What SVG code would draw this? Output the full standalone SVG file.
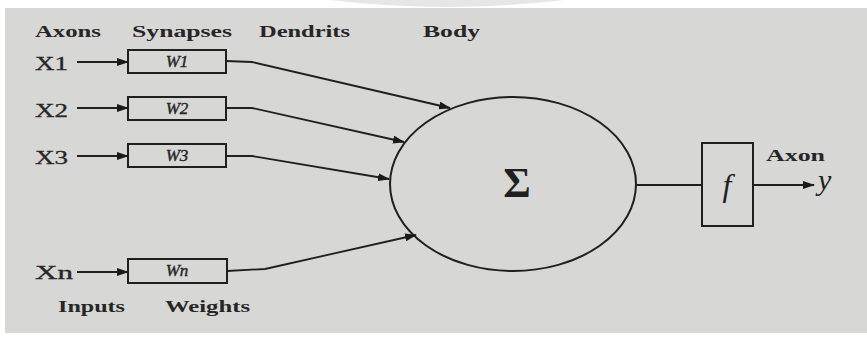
<svg xmlns="http://www.w3.org/2000/svg" width="867" height="337" viewBox="0 0 867 337">
<defs>
<marker id="ah" markerWidth="12" markerHeight="8" refX="11" refY="4" orient="auto" markerUnits="userSpaceOnUse">
<path d="M0,0 L12,4 L0,8 Z" fill="#1a1a1a"/>
</marker>
<style>
.lbl{font-family:"Liberation Serif","DejaVu Serif",serif;font-weight:bold;font-size:16px;fill:#262626}
.x{font-family:"Liberation Serif","DejaVu Serif",serif;font-size:18px;fill:#262626;stroke:#262626;stroke-width:0.3}
.w{font-family:"Liberation Serif","DejaVu Serif",serif;font-style:italic;font-size:17px;fill:#262626;stroke:#262626;stroke-width:0.4}
.box{fill:none;stroke:#1f1f1f;stroke-width:2}
.ln{fill:none;stroke:#1f1f1f;stroke-width:1.8}
</style>
</defs>
<rect x="0" y="0" width="867" height="337" fill="#ffffff"/>
<rect x="5" y="8" width="862" height="325" fill="#d7d7d5"/>
<path d="M330,0 Q445,14 565,0 Z" fill="#e6e6e6"/>

<g id="headers">
<text class="lbl" x="35" y="37" textLength="66" lengthAdjust="spacingAndGlyphs">Axons</text>
<text class="lbl" x="132" y="37" textLength="100" lengthAdjust="spacingAndGlyphs">Synapses</text>
<text class="lbl" x="259" y="37" textLength="91" lengthAdjust="spacingAndGlyphs">Dendrits</text>
<text class="lbl" x="423" y="37" textLength="57" lengthAdjust="spacingAndGlyphs">Body</text>
<text class="lbl" x="58" y="312" textLength="67" lengthAdjust="spacingAndGlyphs">Inputs</text>
<text class="lbl" x="165" y="312" textLength="85" lengthAdjust="spacingAndGlyphs">Weights</text>
<text class="lbl" x="766" y="161" textLength="59" lengthAdjust="spacingAndGlyphs">Axon</text>
</g>

<g id="in1"><text class="x" x="35" y="70" textLength="33" lengthAdjust="spacingAndGlyphs">X1</text></g>
<g id="in2"><text class="x" x="35" y="117" textLength="33" lengthAdjust="spacingAndGlyphs">X2</text></g>
<g id="in3"><text class="x" x="35" y="164" textLength="33" lengthAdjust="spacingAndGlyphs">X3</text></g>
<g id="inn"><text class="x" x="35" y="279" textLength="38" lengthAdjust="spacingAndGlyphs">Xn</text></g>

<g id="w1"><rect class="box" x="128" y="50" width="98" height="23"/><text class="w" x="177" y="67" text-anchor="middle">W1</text></g>
<g id="w2"><rect class="box" x="128" y="97" width="98" height="23"/><text class="w" x="177" y="114" text-anchor="middle">W2</text></g>
<g id="w3"><rect class="box" x="128" y="144" width="98" height="23"/><text class="w" x="177" y="161" text-anchor="middle">W3</text></g>
<g id="wn"><rect class="box" x="128" y="259" width="99" height="24"/><text class="w" x="177" y="276" text-anchor="middle">Wn</text></g>

<g id="body">
<ellipse cx="513" cy="184" rx="123" ry="87" fill="none" stroke="#1f1f1f" stroke-width="2"/>
<text x="517" y="197" text-anchor="middle" font-family="Liberation Serif, DejaVu Serif, serif" font-weight="bold" font-size="42" fill="#1f1f1f">Σ</text>
</g>

<g id="act">
<rect class="box" x="702" y="143" width="51" height="83"/>
<text x="727" y="196" text-anchor="middle" font-family="Liberation Serif, DejaVu Serif, serif" font-style="italic" font-size="32" fill="#1f1f1f">f</text>
</g>

<g id="out"><text x="818" y="190" font-family="Liberation Serif, DejaVu Serif, serif" font-style="italic" font-size="30" fill="#1f1f1f">y</text></g>

<g id="connectors">
<line class="ln" x1="77" y1="62" x2="128" y2="62" marker-end="url(#ah)"/>
<line class="ln" x1="77" y1="108" x2="128" y2="108" marker-end="url(#ah)"/>
<line class="ln" x1="77" y1="156" x2="128" y2="156" marker-end="url(#ah)"/>
<line class="ln" x1="77" y1="272" x2="128" y2="272" marker-end="url(#ah)"/>
<polyline class="ln" points="226,61 252,62 450,108" marker-end="url(#ah)"/>
<polyline class="ln" points="226,108 252,108 404,142" marker-end="url(#ah)"/>
<polyline class="ln" points="226,156 252,156 389,179" marker-end="url(#ah)"/>
<polyline class="ln" points="227,271 265,269 416,235" marker-end="url(#ah)"/>
<line class="ln" x1="636" y1="185" x2="702" y2="185"/>
<line class="ln" x1="753" y1="185" x2="814" y2="185" marker-end="url(#ah)"/>
</g>
</svg>
